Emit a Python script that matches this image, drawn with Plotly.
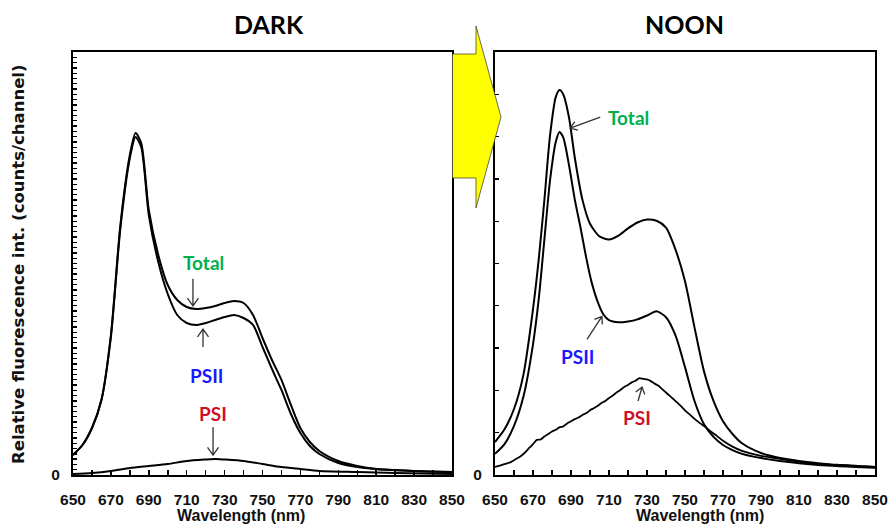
import math
import plotly.graph_objects as go

# ---------------- data ----------------
WL_DARK = [650, 655, 660, 665, 670, 675, 680, 683, 686, 690, 695, 700, 705, 710, 715, 720, 725, 730,
           735, 740, 745, 750, 755, 760, 765, 770, 775, 780, 790, 800, 810, 830, 850]
TOTAL_DARK = [3.78, 5.67, 8.89, 14.18, 26.48, 47.28, 60.52, 64.68, 62.79, 50.12, 41.61, 35.93, 33.10,
              31.77, 31.40, 31.58, 31.96, 32.53, 32.91, 32.53, 30.26, 25.91, 21.75, 17.97, 13.24, 8.89,
              6.24, 4.54, 2.65, 1.70, 1.13, 0.76, 0.57]
PSII_DARK = [3.78, 5.67, 8.89, 14.18, 26.10, 46.71, 59.96, 63.93, 62.03, 49.17, 40.28, 34.23, 30.26,
             28.75, 28.37, 28.75, 29.32, 29.88, 30.26, 29.69, 28.37, 24.21, 20.05, 16.08, 11.54, 7.94,
             5.48, 3.97, 2.27, 1.51, 1.13, 0.76, 0.57]
WL_PSI_DARK = [650, 660, 670, 680, 690, 700, 710, 720, 725, 730, 740, 750, 760, 770, 780, 800, 820, 850]
PSI_DARK = [0.19, 0.38, 0.76, 1.32, 1.70, 2.08, 2.65, 2.93, 3.03, 2.93, 2.65, 2.08, 1.51, 1.13, 0.76,
            0.57, 0.38, 0.19]

WL_NOON_TOTAL = [650, 655, 660, 665, 670, 673, 676, 679, 682, 684, 686, 689, 692, 696, 700, 705, 710,
                 715, 720, 725, 730, 735, 740, 745, 750, 755, 760, 765, 770, 775, 780, 790, 800, 810,
                 820, 830, 850]
TOTAL_NOON = [0.78, 1.08, 1.56, 2.38, 3.92, 5.09, 6.51, 8.04, 8.94, 9.10, 8.99, 8.44, 7.50, 6.51, 5.94,
              5.64, 5.57, 5.66, 5.83, 5.97, 6.04, 6.01, 5.85, 5.33, 4.58, 3.49, 2.45, 1.75, 1.27, 0.97,
              0.75, 0.52, 0.40, 0.33, 0.28, 0.24, 0.19]
WL_NOON_PSII = [650, 655, 660, 665, 670, 673, 676, 679, 682, 684, 686, 689, 692, 695, 698, 701, 704,
                707, 710, 715, 720, 725, 730, 735, 740, 745, 750, 755, 760, 765, 770, 775, 780, 790,
                800, 810, 830, 850]
PSII_NOON = [0.50, 0.73, 1.16, 1.86, 3.09, 4.15, 5.57, 6.98, 7.88, 8.11, 7.97, 7.31, 6.51, 5.85, 5.14,
             4.53, 4.10, 3.80, 3.66, 3.61, 3.63, 3.68, 3.77, 3.87, 3.73, 3.30, 2.55, 1.75, 1.20, 0.90,
             0.71, 0.59, 0.50, 0.40, 0.33, 0.28, 0.21, 0.17]
WL_NOON_PSI = [650, 653, 656, 658, 660, 662, 664, 666, 668, 670, 672, 674, 676, 678, 680, 682, 684, 686,
               688, 690, 692, 694, 696, 698, 700, 702, 704, 706, 708, 710, 712, 714, 716, 718, 720, 722,
               724, 726, 728, 730, 732, 734, 736, 738, 740, 742, 744, 746, 748, 750, 752, 754, 756, 758,
               760, 763, 766, 770, 775, 780, 790, 800, 810, 820, 830, 840, 850]
PSI_NOON = [0.19, 0.23, 0.27, 0.30, 0.35, 0.40, 0.46, 0.54, 0.64, 0.73, 0.83, 0.84, 0.91, 0.97, 1.03,
            1.07, 1.13, 1.15, 1.22, 1.27, 1.32, 1.36, 1.42, 1.46, 1.53, 1.58, 1.63, 1.70, 1.75, 1.82,
            1.88, 1.95, 2.01, 2.08, 2.13, 2.19, 2.23, 2.29, 2.27, 2.26, 2.22, 2.16, 2.11, 2.03, 1.95,
            1.87, 1.79, 1.71, 1.62, 1.53, 1.45, 1.37, 1.29, 1.22, 1.16, 1.05, 0.95, 0.81, 0.67, 0.57,
            0.45, 0.38, 0.31, 0.26, 0.24, 0.21, 0.19]

X_TICKS = [650, 670, 690, 710, 730, 750, 770, 790, 810, 830, 850]
X_TICK_TEXT = [str(v) for v in X_TICKS]
PANEL_TITLES = ["DARK", "NOON"]
X_TITLE = "Wavelength (nm)"
Y_TITLE = "Relative fluorescence int. (counts/channel)"

GREEN = "#00b050"
BLUE = "#1a1aff"
RED = "#d0102a"

# ---------------- figure ----------------
# body margin is removed in the page (post_script), so the figure fills the window from (0, 0)
OFF = 0
W, H = 888 - OFF, 529 - OFF
fig = go.Figure()

line_style = dict(color="black", width=2, shape="spline", smoothing=0.7)
for x, y, ax in [(WL_DARK, TOTAL_DARK, 1), (WL_DARK, PSII_DARK, 1), (WL_PSI_DARK, PSI_DARK, 1),
                 (WL_NOON_TOTAL, TOTAL_NOON, 2), (WL_NOON_PSII, PSII_NOON, 2)]:
    fig.add_trace(go.Scatter(x=x, y=y, mode="lines", line=line_style, showlegend=False,
                             hoverinfo="skip", xaxis="x" if ax == 1 else "x2",
                             yaxis="y" if ax == 1 else "y2"))
fig.add_trace(go.Scatter(x=WL_NOON_PSI, y=PSI_NOON, mode="lines",
                         line=dict(color="black", width=1.8, shape="spline", smoothing=0.5),
                         showlegend=False, hoverinfo="skip", xaxis="x2", yaxis="y2"))


def px_x(p):
    return (p - OFF) / W


def px_y(p):
    return 1 - (p - OFF) / H


tickfont = dict(family="Liberation Sans, Arial", size=15.5, color="#111", weight="bold")

xcommon = dict(range=[650, 850], tickvals=X_TICKS, ticktext=X_TICK_TEXT, ticks="inside", ticklen=5,
               tickwidth=1.5, tickcolor="black",
               minor=dict(dtick=10, tick0=650, ticks="inside", ticklen=5, tickwidth=1.5, tickcolor="black"),
               showline=True, linewidth=2, linecolor="black", mirror=True, showgrid=False,
               zeroline=False, tickfont=tickfont, ticklabelstandoff=9, fixedrange=True,
               automargin=False, ticklabeloverflow="allow")
ycommon = dict(tickvals=[0], ticktext=["0"], ticks="inside", ticklen=4, tickwidth=1.5, tickcolor="black",
               showline=True, linewidth=2, linecolor="black", mirror=True, showgrid=False,
               zeroline=False, tickfont=tickfont, ticklabelstandoff=8, fixedrange=True,
               automargin=False)

ydom = [px_y(475), px_y(52)]
fig.update_layout(
    width=W, height=H, margin=dict(l=0, r=0, t=0, b=0, autoexpand=False),
    paper_bgcolor="white", plot_bgcolor="white",
    xaxis=dict(domain=[px_x(73), px_x(452)], anchor="y", **xcommon),
    yaxis=dict(domain=ydom, anchor="x", range=[0, 80],
               minor=dict(dtick=1, ticks="inside", ticklen=4, tickwidth=1.3, tickcolor="black"),
               **ycommon),
    xaxis2=dict(domain=[px_x(495), px_x(875)], anchor="y2", **xcommon),
    yaxis2=dict(domain=ydom, anchor="x2", range=[0, 10],
                minor=dict(dtick=1, ticks="inside", ticklen=4, tickwidth=1.3, tickcolor="black"),
                **ycommon),
)

ann = []
title_font = dict(family="Lato, Noto Sans", size=25, color="black", weight="bold")
ann.append(dict(text=PANEL_TITLES[0], x=px_x(269), y=px_y(24), xref="paper", yref="paper",
                showarrow=False, font=title_font, xanchor="center", yanchor="middle"))
ann.append(dict(text=PANEL_TITLES[1], x=px_x(684), y=px_y(24), xref="paper", yref="paper",
                showarrow=False, font=title_font, xanchor="center", yanchor="middle"))
axis_title_font = dict(family="Liberation Sans, Arial", size=16, color="#111", weight="bold")
ann.append(dict(text=X_TITLE, x=px_x(241), y=px_y(515), xref="paper", yref="paper", showarrow=False,
                font=axis_title_font, xanchor="center", yanchor="middle"))
ann.append(dict(text=X_TITLE, x=px_x(700), y=px_y(515), xref="paper", yref="paper", showarrow=False,
                font=axis_title_font, xanchor="center", yanchor="middle"))
ann.append(dict(text=Y_TITLE, x=px_x(18), y=px_y(264), xref="paper", yref="paper", showarrow=False,
                textangle=-90, font=dict(family="DejaVu Sans", size=16.5, color="#111", weight="bold"),
                xanchor="center", yanchor="middle"))

lab_font = dict(family="Lato, Noto Sans", size=19, weight="bold")
# (text, colour, x, y, axis)
LABELS = [("Total", GREEN, 718.6, 40.1, 1), ("PSII", BLUE, 720.7, 18.9, 1), ("PSI", RED, 723.9, 11.7, 1),
          ("Total", GREEN, 720.0, 8.44, 2), ("PSII", BLUE, 693.2, 2.81, 2), ("PSI", RED, 724.7, 1.37, 2)]
for t, c, x, y, a in LABELS:
    ann.append(dict(text=t, x=x, y=y, xref="x" if a == 1 else "x2", yref="y" if a == 1 else "y2",
                    showarrow=False, font=dict(color=c, **lab_font), xanchor="center", yanchor="middle"))
fig.update_layout(annotations=ann)


def arrow_path(dx, dy, head=9.5, spread=0.62):
    L = math.hypot(dx, dy)
    ux, uy = dx / L, dy / L
    c, s = math.cos(spread), math.sin(spread)
    h1 = (head * (ux * c - uy * s), head * (ux * s + uy * c))
    h2 = (head * (ux * c + uy * s), head * (-ux * s + uy * c))
    return (f"M{dx:.1f},{dy:.1f} L0,0 M{h1[0]:.1f},{h1[1]:.1f} L0,0 L{h2[0]:.1f},{h2[1]:.1f}")


# arrows: tip (data) and tail offset in px (y up)
ARROWS = [(713.3, 32.0, 0, 27, 1), (718.6, 27.6, 0, -18, 1), (723.9, 3.75, 0, 28, 1),
          (689.6, 8.2, 30, 11, 2), (706.3, 3.75, -15, -23, 2), (727.4, 2.08, -4, -14, 2)]
shapes = []
for x, y, dx, dy, a in ARROWS:
    shapes.append(dict(type="path", xref="x" if a == 1 else "x2", yref="y" if a == 1 else "y2",
                       xsizemode="pixel", ysizemode="pixel", xanchor=x, yanchor=y,
                       path=arrow_path(dx, dy, head=9.5 if a == 1 else 8),
                       line=dict(color="#333", width=1.3)))

# yellow block arrow between panels
pts = [(452.5, 54), (476, 54), (476, 26), (501, 117), (476, 208), (476, 178), (452.5, 178)]
path = "M" + " L".join(f"{px_x(x):.5f},{px_y(y):.5f}" for x, y in pts) + " Z"
shapes.append(dict(type="path", xref="paper", yref="paper", path=path, fillcolor="#ffff00",
                   line=dict(color="#444", width=0.8), layer="above"))
fig.update_layout(shapes=shapes)

fig.write_html("out.html", config={"displayModeBar": False, "staticPlot": True},
               post_script="document.body.style.margin='0';document.body.style.overflow='hidden';")
